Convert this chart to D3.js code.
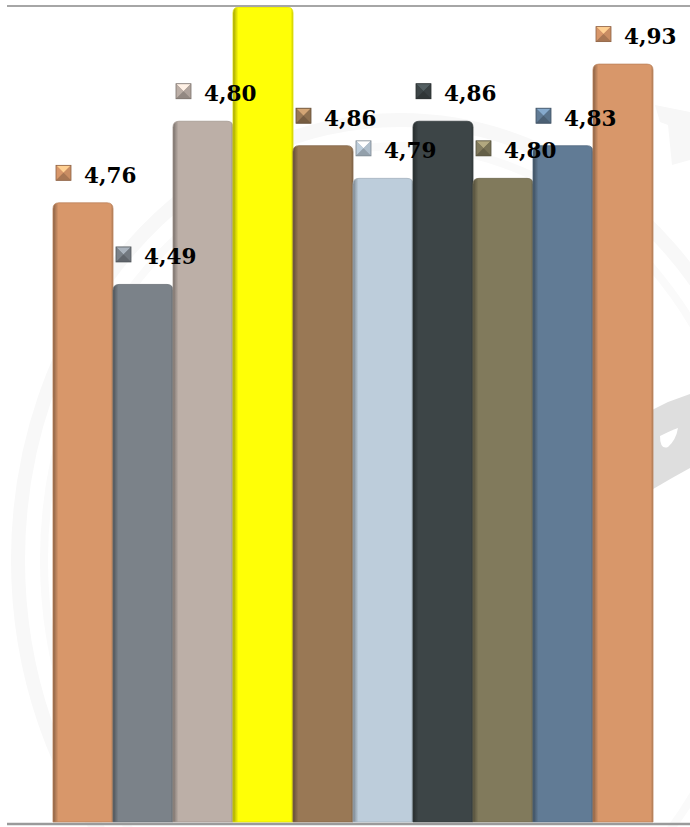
<!DOCTYPE html>
<html>
<head>
<meta charset="utf-8">
<script src="https://cdn.jsdelivr.net/npm/d3@7"></script>
<style>
  html, body { margin: 0; padding: 0; background: #fff; }
  svg { display: block; }
</style>
</head>
<body>
<svg id="chart" width="690" height="827"></svg>
<script>
// ---- data ----
const categories = ["1", "2", "3", "4", "5", "6", "7", "8", "9", "10"];
const barValues  = [4.76, 4.66, 4.86, 5.00, 4.83, 4.79, 4.86, 4.79, 4.83, 4.93];
const labelTexts = ["4,76", "4,49", "4,80", "", "4,86", "4,79", "4,86", "4,80", "4,83", "4,93"];
const barColors  = ["#D8976A", "#7B8289", "#BCAFA7", "#FFFF06", "#997855", "#BDCDDB", "#3D4547", "#817A5C", "#617B95", "#D8976A"];
const yDomain    = [4.0, 5.0];

// ---- setup ----
const W = 690, H = 827;
const svg = d3.select("#chart");
const defs = svg.append("defs");

const x = d3.scaleBand().domain(categories).range([53, 653]).padding(0);
const y = d3.scaleLinear().domain(yDomain).range([823, 7]);

// ---- faint watermark ----
const wm = svg.append("g");
wm.append("ellipse")
  .attr("cx", 400).attr("cy", 560).attr("rx", 382).attr("ry", 440)
  .attr("fill", "none").attr("stroke", "#f8f8f8").attr("stroke-width", 14);
wm.append("ellipse")
  .attr("cx", 400).attr("cy", 560).attr("rx", 356).attr("ry", 414)
  .attr("fill", "none").attr("stroke", "#fafafa").attr("stroke-width", 8);
wm.append("path")
  .attr("d", "M648,412 L668,402 L690,394 L690,468 L672,478 L648,492 Z")
  .attr("fill", "#dedede");
wm.append("path")
  .attr("d", "M660,436 Q672,430 678,428 Q676,440 668,447 Q660,450 660,436 Z")
  .attr("fill", "#fff");
wm.append("path")
  .attr("d", "M655,105 L690,112 L690,160 L672,165 L668,125 L660,122 Z")
  .attr("fill", "#f7f7f7");

// ---- gradients per bar ----
barColors.forEach((c, i) => {
  const base = d3.color(c);
  const dark = base.darker(1.4);
  const mid = base.darker(0.6);
  const g = defs.append("linearGradient")
    .attr("id", "bg" + i).attr("x1", "0%").attr("x2", "100%").attr("y1", "0%").attr("y2", "0%");
  g.append("stop").attr("offset", "0%").attr("stop-color", dark);
  g.append("stop").attr("offset", "4%").attr("stop-color", mid);
  g.append("stop").attr("offset", "9%").attr("stop-color", c);
  g.append("stop").attr("offset", "96%").attr("stop-color", c);
  g.append("stop").attr("offset", "100%").attr("stop-color", base.darker(0.6));
});

// ---- bars ----
const r = 6;
function barPath(i) {
  const x0 = x(categories[i]), w = x.bandwidth();
  const top = y(barValues[i]), bot = y(yDomain[0]) - 1;
  return `M${x0},${bot} L${x0},${top + r} Q${x0},${top} ${x0 + r},${top} ` +
         `L${x0 + w - r},${top} Q${x0 + w},${top} ${x0 + w},${top + r} L${x0 + w},${bot} Z`;
}
svg.append("g").selectAll("path")
  .data(categories)
  .join("path")
  .attr("d", (d, i) => barPath(i))
  .attr("fill", (d, i) => `url(#bg${i})`)
  .attr("stroke", (d, i) => d3.color(barColors[i]).darker(0.4))
  .attr("stroke-width", 0.8);

// ---- axis lines ----
svg.append("line").attr("x1", 7).attr("x2", W).attr("y1", 6).attr("y2", 6)
  .attr("stroke", "#a6a6a6").attr("stroke-width", 2);
svg.append("line").attr("x1", 7).attr("x2", W).attr("y1", 824).attr("y2", 824)
  .attr("stroke", "#9a9a9a").attr("stroke-width", 2.5);

// ---- labels with bevelled markers ----
const lab = svg.append("g");
categories.forEach((d, i) => {
  if (!labelTexts[i]) return;
  const cy = y(barValues[i]) - 30;
  const mx = x(d) + 3, s = 15;
  const c = d3.color(barColors[i]);
  const g = lab.append("g").attr("transform", `translate(${mx},${cy - s / 2})`);
  const cxm = s / 2, cym = s / 2;
  g.append("rect").attr("width", s).attr("height", s).attr("fill", c.darker(0.3));
  g.append("path").attr("d", `M0,0 L${s},0 L${cxm},${cym} Z`).attr("fill", c.brighter(0.9));
  g.append("path").attr("d", `M0,0 L${cxm},${cym} L0,${s} Z`).attr("fill", c);
  g.append("path").attr("d", `M${s},0 L${cxm},${cym} L${s},${s} Z`).attr("fill", c.darker(0.2));
  g.append("path").attr("d", `M0,${s} L${cxm},${cym} L${s},${s} Z`).attr("fill", c.darker(0.7));
  g.append("rect").attr("width", s).attr("height", s).attr("fill", "none")
    .attr("stroke", c.darker(1.2)).attr("stroke-width", 0.8);
  lab.append("text")
    .attr("x", mx + 28).attr("y", cy + 10)
    .attr("font-family", "'DejaVu Serif', serif")
    .attr("font-weight", "bold")
    .attr("font-size", 21.5)
    .attr("fill", "#000")
    .text(labelTexts[i]);
});
</script>
</body>
</html>
